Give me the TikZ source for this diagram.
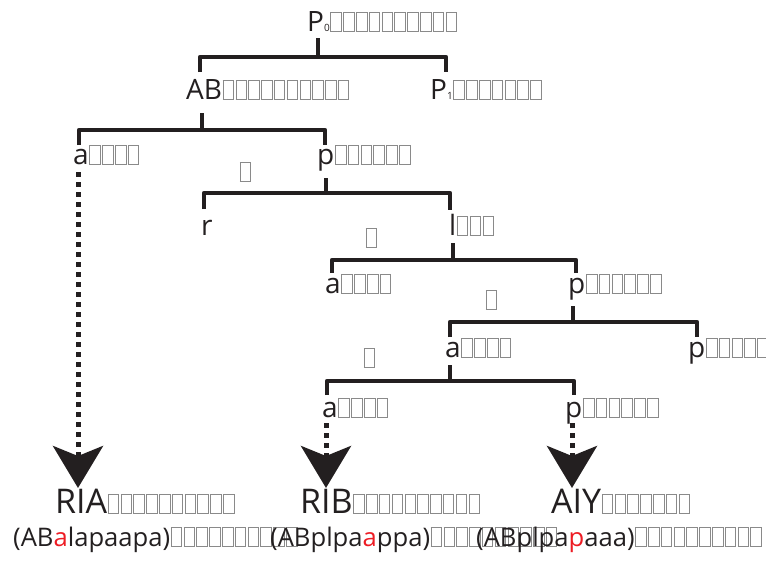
\documentclass[tikz,border=0pt]{standalone}
\usepackage{fontspec}
\setmainfont{Open Sans}
\usetikzlibrary{arrows.meta}
\definecolor{ink}{HTML}{231F20}
\definecolor{tofugray}{HTML}{8A8A8A}
\definecolor{hl}{HTML}{ED1C24}
\setlength{\fboxsep}{0pt}
\setlength{\fboxrule}{1pt}
% empty glyph box, as printed for characters the font lacks
\newcommand\tofu{{\color{tofugray}\kern0.65pt\fbox{\rule{0pt}{18pt}\rule{9.5pt}{0pt}}\kern0.65pt}}
\newcommand\tofurun[1]{\foreach\k in {1,...,#1}{\tofu}}
\newcommand\sub[1]{{\fontsize{10}{10}\selectfont #1}}
\tikzset{
  lbl/.style={anchor=base west, inner sep=0pt, text=ink, font=\fontsize{28}{28}\selectfont},
  leaf/.style={lbl, font=\fontsize{34}{34}\selectfont},
  seq/.style={lbl, font=\fontsize{25.6}{26}\selectfont},
  tag/.style={anchor=south west, inner sep=0pt},
  bracket/.style={draw=ink, line width=4.5pt, line join=round},
  hop/.style={draw=ink, line width=5pt, dash pattern=on 5pt off 5pt,
    -{Stealth[length=42pt,width=50pt,inset=10pt]}},
}
\begin{document}
\begin{tikzpicture}[x=1pt,y=-1pt]
\useasboundingbox (0,0) rectangle (766,560);
\clip (0,0) rectangle (766,560);

% labels of the tree
\node[lbl] (p0) at (307,31) {P\sub{0}\tofurun{10}};
\node[lbl] (ab) at (186,99) {AB\tofurun{10}};
\node[lbl] (p1) at (430,99) {P\sub{1}\tofurun{7}};
\node[lbl] (a1) at (73,164) {a\tofurun{4}};
\node[lbl] (pp1) at (317,164) {p\tofurun{6}};
\node[lbl] (r) at (201,235) {r};
\node[lbl] (l) at (449,235) {l\tofurun{3}};
\node[lbl] (a2) at (325,293) {a\tofurun{4}};
\node[lbl] (pp2) at (568,293) {p\tofurun{6}};
\node[lbl] (a3) at (445,357) {a\tofurun{4}};
\node[lbl] (pp3) at (688,357) {p\tofurun{6}};
\node[lbl] (a4) at (322,417) {a\tofurun{4}};
\node[lbl] (pp4) at (565,417) {p\tofurun{6}};

% single-character branch tags
\node[tag] (t1) at (239,182) {\tofu};
\node[tag] (t2) at (365,248) {\tofu};
\node[tag] (t3) at (485,310) {\tofu};
\node[tag] (t4) at (363,368) {\tofu};

% results
\node[leaf] (ria) at (55,513) {RIA\tofurun{10}};
\node[leaf] (rib) at (300,513) {RIB\tofurun{10}};
\node[leaf] (aiy) at (551,513) {AIY\tofurun{7}};
\node[seq] (sa) at (13,546) {(AB\textcolor{hl}{a}lapaapa)\tofurun{10}};
\node[seq] (sb) at (270,546) {(ABplpa\textcolor{hl}{a}ppa)\tofurun{10}};
\node[seq] (sc) at (476,546) {(ABplpa\textcolor{hl}{p}aaa)\tofurun{10}};

% bracket geometry: stem top, junction, left and right leg ends
\coordinate (b0t) at (318,38);  \coordinate (b0j) at (318,57);
\coordinate (b0l) at (200,72);  \coordinate (b0r) at (446,72);
\coordinate (b1t) at (202,113); \coordinate (b1j) at (202,130);
\coordinate (b1l) at (79,145);  \coordinate (b1r) at (325,145);
\coordinate (b2t) at (326,178); \coordinate (b2j) at (326,193);
\coordinate (b2l) at (204,209); \coordinate (b2r) at (450,210);
\coordinate (b3t) at (453,243); \coordinate (b3j) at (453,260);
\coordinate (b3l) at (332,273); \coordinate (b3r) at (576,273);
\coordinate (b4t) at (573,306); \coordinate (b4j) at (573,322);
\coordinate (b4l) at (450,337); \coordinate (b4r) at (697,337);
\coordinate (b5t) at (450,365); \coordinate (b5j) at (450,381);
\coordinate (b5l) at (327,395); \coordinate (b5r) at (574,395);

\foreach \b in {b0,b1,b2,b3,b4,b5}{
  \draw[bracket] (\b t) -- (\b j);
  \draw[bracket] (\b l) |- (\b j) -| (\b r);
}

% dotted arrows down to the results
\coordinate (h1) at (78,172);  \coordinate (e1) at (78,488);
\coordinate (h2) at (326,423); \coordinate (e2) at (326,488);
\coordinate (h3) at (572,423); \coordinate (e3) at (572,488);
\draw[hop] (h1) -- (e1);
\draw[hop] (h2) -- (e2);
\draw[hop] (h3) -- (e3);
\end{tikzpicture}
\end{document}
